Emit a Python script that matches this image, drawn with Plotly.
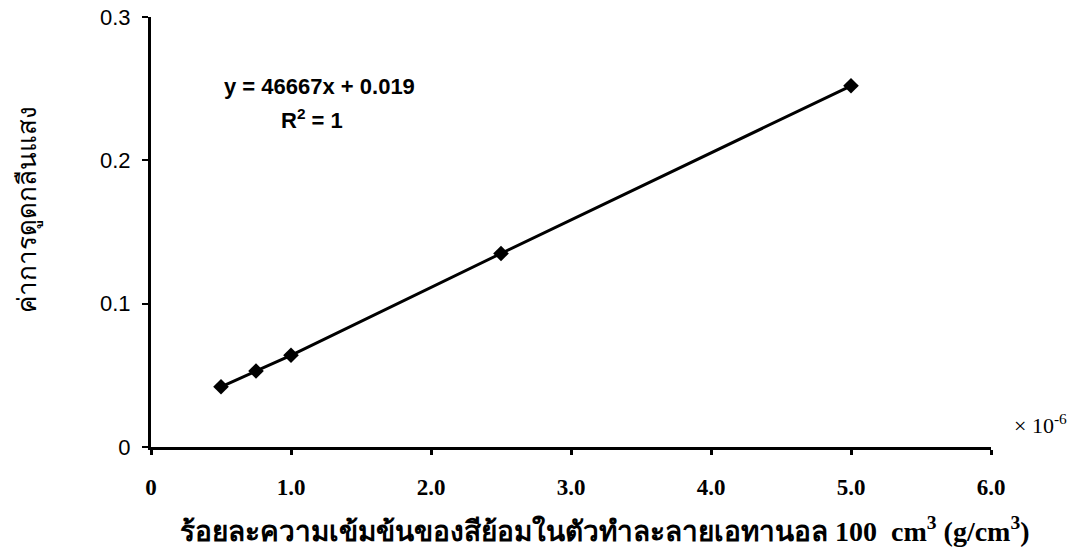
import plotly.graph_objects as go

# Data (x in units of 1e-6 g/cm3)
conc = [0.5, 0.75, 1.0, 2.5, 5.0]
absorb = [0.042, 0.053, 0.064, 0.135, 0.252]

x_ticks = [0, 1, 2, 3, 4, 5, 6]
x_tick_labels = ["<b>0</b>", "<b>1.0</b>", "<b>2.0</b>", "<b>3.0</b>", "<b>4.0</b>", "<b>5.0</b>", "<b>6.0</b>"]
y_ticks = [0, 0.1, 0.2, 0.3]
y_tick_labels = ["0", "0.1", "0.2", "0.3"]

equation = "y = 46667x + 0.019"
r2 = "R<sup>2</sup> = 1"
x_title = "ร้อยละความเข้มข้นของสีย้อมในตัวทำละลายเอทานอล 100  cm<sup>3</sup> (g/cm<sup>3</sup>)"
y_title = "ค่าการดูดกลืนแสง"

fig = go.Figure()
fig.add_trace(go.Scatter(
    x=conc, y=absorb, mode="lines+markers",
    line=dict(color="black", width=3),
    marker=dict(symbol="diamond", size=12, color="black"),
    showlegend=False,
))

fig.update_layout(
    width=1085, height=558,
    margin=dict(l=143, r=102, t=9, b=119),
    plot_bgcolor="white", paper_bgcolor="white",
    font=dict(family="Liberation Sans", color="black"),
)
fig.update_xaxes(
    range=[0, 6], tickvals=x_ticks, ticktext=x_tick_labels,
    showgrid=False, zeroline=False, automargin=False,
    showline=True, linecolor="black", linewidth=3,
    ticks="outside", ticklen=5, tickwidth=3, tickcolor="black",
    tickfont=dict(family="Liberation Serif", size=23, color="black"),
    ticklabelstandoff=12,
)
fig.update_yaxes(
    range=[0, 0.3], tickvals=y_ticks, ticktext=y_tick_labels,
    showgrid=False, zeroline=False, automargin=False,
    showline=True, linecolor="black", linewidth=3,
    ticks="outside", ticklen=6, tickwidth=2, tickcolor="black",
    tickfont=dict(family="Liberation Sans", size=22, color="black"),
    ticklabelstandoff=7, ticklabeloverflow="allow",
)

# Axis titles as annotations (positioned as in the reference)
fig.add_annotation(x=0.54, y=-0.193, xref="paper", yref="paper",
                   text="<b>" + x_title + "</b>", showarrow=False,
                   xanchor="center", yanchor="middle",
                   font=dict(family="Liberation Serif", size=28, color="black"))
fig.add_annotation(x=-0.148, y=0.553, xref="paper", yref="paper",
                   text=y_title, showarrow=False, textangle=-90,
                   xanchor="center", yanchor="middle",
                   font=dict(family="Noto Sans", size=26, color="black"))

fig.add_annotation(x=0.201, y=0.838, xref="paper", yref="paper",
                   text="<b>" + equation + "</b>", showarrow=False,
                   xanchor="center", yanchor="middle",
                   font=dict(family="Liberation Sans", size=22, color="black"))
fig.add_annotation(x=0.192, y=0.762, xref="paper", yref="paper",
                   text="<b>" + r2 + "</b>", showarrow=False,
                   xanchor="center", yanchor="middle",
                   font=dict(family="Liberation Sans", size=22, color="black"))
fig.add_annotation(x=1.025, y=0.016, xref="paper", yref="paper",
                   text="× 10<sup>-6</sup>", showarrow=False,
                   xanchor="left", yanchor="bottom",
                   font=dict(family="Liberation Serif", size=22, color="black"))

fig.write_html("out.html")
